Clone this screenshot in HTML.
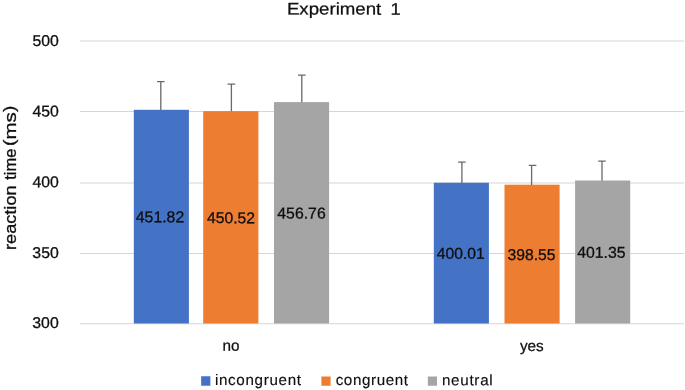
<!DOCTYPE html>
<html>
<head>
<meta charset="utf-8">
<title>Experiment 1</title>
<style>
html,body{margin:0;padding:0;background:#fff;}
body{width:685px;height:390px;overflow:hidden;font-family:"Liberation Sans",sans-serif;}
svg{display:block;will-change:transform;}
text{font-family:"Liberation Sans",sans-serif;fill:#0f0f0f;}
</style>
</head>
<body>
<svg width="685" height="390" viewBox="0 0 685 390">
<rect x="0" y="0" width="685" height="390" fill="#ffffff"/>
<!-- gridlines -->
<g stroke="#d6d6d6" stroke-width="1.1">
<line x1="80" y1="41.0" x2="684.3" y2="41.0"/>
<line x1="80" y1="111.5" x2="684.3" y2="111.5"/>
<line x1="80" y1="183.0" x2="684.3" y2="183.0"/>
<line x1="80" y1="253.45" x2="684.3" y2="253.45"/>
<line x1="80" y1="323.8" x2="684.3" y2="323.8"/>
</g>
<!-- bars -->
<g>
<rect x="133.8" y="109.8" width="55.1" height="213.7" fill="#4472c4"/>
<rect x="203.2" y="111.15" width="55.2" height="212.35" fill="#ed7d31"/>
<rect x="274.0" y="102.1" width="55.1" height="221.4" fill="#a5a5a5"/>
<rect x="433.8" y="182.75" width="55.1" height="140.75" fill="#4472c4"/>
<rect x="504.5" y="184.7" width="55.1" height="138.8" fill="#ed7d31"/>
<rect x="575.1" y="180.5" width="55.1" height="143.0" fill="#a5a5a5"/>
</g>
<!-- error bars -->
<g stroke="#696969" stroke-width="1.3" fill="none">
<path d="M160.8 110V81.6M157 81.6H164.6"/>
<path d="M231.4 111.3V84.1M227.6 84.1H235.2"/>
<path d="M301.8 102.3V75.2M298 75.2H305.6"/>
<path d="M461.9 183V162.1M458.1 162.1H465.7"/>
<path d="M531.6 184.9V165.4M528.8 165.4H536.4"/>
<path d="M602 180.7V161.1M598.2 161.1H605.8"/>
</g>
<g transform="rotate(0.03 342 195)">
<!-- title -->
<text x="286.8" y="14.6" font-size="16.8" stroke="#0f0f0f" stroke-width="0.25" textLength="94.4" lengthAdjust="spacingAndGlyphs">Experiment</text>
<text x="390.4" y="14.6" font-size="16.8" stroke="#0f0f0f" stroke-width="0.25" textLength="10.2" lengthAdjust="spacingAndGlyphs">1</text>
<!-- y axis tick labels -->
<g font-size="15.7" text-anchor="end" stroke="#0f0f0f" stroke-width="0.3">
<text x="58.8" y="46.15" textLength="26.4" lengthAdjust="spacingAndGlyphs">500</text>
<text x="58.8" y="116.6" textLength="26.4" lengthAdjust="spacingAndGlyphs">450</text>
<text x="58.8" y="187.45" textLength="26.4" lengthAdjust="spacingAndGlyphs">400</text>
<text x="58.8" y="258.25" textLength="26.4" lengthAdjust="spacingAndGlyphs">350</text>
<text x="58.8" y="328.1" textLength="26.4" lengthAdjust="spacingAndGlyphs">300</text>
</g>
<!-- y axis title -->
<g font-size="16" transform="rotate(-90.03)" stroke="#0f0f0f" stroke-width="0.3">
<text x="-250.2" y="15.5" textLength="64.6" lengthAdjust="spacingAndGlyphs">reaction</text>
<text x="-180.0" y="15.5" textLength="31.2" lengthAdjust="spacingAndGlyphs">time</text>
<text x="-146.2" y="15.0" font-size="17.2" textLength="6.4" lengthAdjust="spacingAndGlyphs">(</text>
<text x="-139.7" y="15.5" textLength="27.2" lengthAdjust="spacingAndGlyphs">ms</text>
<text x="-112.2" y="15.0" font-size="17.2" textLength="6.4" lengthAdjust="spacingAndGlyphs">)</text>
</g>
<!-- data labels -->
<g font-size="15.7" text-anchor="middle" stroke="#0f0f0f" stroke-width="0.3">
<text x="160.0" y="222.3" textLength="48.4" lengthAdjust="spacingAndGlyphs">451.82</text>
<text x="231.0" y="223.2" textLength="48.0" lengthAdjust="spacingAndGlyphs">450.52</text>
<text x="301.5" y="218.6" textLength="48.4" lengthAdjust="spacingAndGlyphs">456.76</text>
<text x="460.8" y="258.7" textLength="47.9" lengthAdjust="spacingAndGlyphs">400.01</text>
<text x="531.6" y="259.9" textLength="47.9" lengthAdjust="spacingAndGlyphs">398.55</text>
<text x="601.4" y="257.5" textLength="48.4" lengthAdjust="spacingAndGlyphs">401.35</text>
</g>
<!-- category labels -->
<g font-size="15.3" text-anchor="middle" stroke="#0f0f0f" stroke-width="0.25">
<text x="231.0" y="350.9">no</text>
<text x="531.9" y="350.9">yes</text>
</g>
<!-- legend -->
<rect x="201.3" y="376.4" width="9.2" height="9.4" fill="#4472c4"/>
<rect x="321.5" y="376.4" width="9.2" height="9.4" fill="#ed7d31"/>
<rect x="427.9" y="376.4" width="9.2" height="9.4" fill="#a5a5a5"/>
<g font-size="15.2" stroke="#0f0f0f" stroke-width="0.15">
<text x="215.0" y="385.1" textLength="86.2" lengthAdjust="spacing">incongruent</text>
<text x="335.8" y="385.1" textLength="72.3" lengthAdjust="spacing">congruent</text>
<text x="442.0" y="385.1" textLength="50.8" lengthAdjust="spacing">neutral</text>
</g>
</g>
</svg>
</body>
</html>
